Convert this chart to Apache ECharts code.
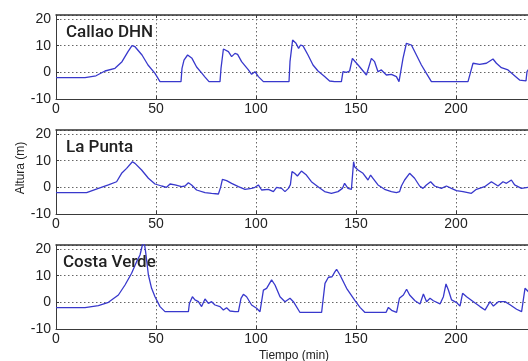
<!DOCTYPE html>
<html>
<head>
<meta charset="utf-8">
<script src="https://cdn.jsdelivr.net/npm/echarts@6/dist/echarts.min.js"></script>
<style>html,body{margin:0;padding:0;background:#fff;}#c{width:528px;height:361px;}</style>
</head>
<body>
<div id="c"></div>
<script>
// Station names
const stations = ['Callao DHN', 'La Punta', 'Costa Verde'];
// X tick labels (minutes) and Y tick labels (m)
const xTicks = [0, 50, 100, 150, 200];
const yTicks = [-10, 0, 10, 20];

// Callao DHN: time (min) and height (m)
const callaoT = [0,14.5,20,24.5,29.5,33,36,38,39.5,43,46,49.5,52,62.5,63,64,65.8,68,70.3,73,74.3,75.3,76.5,82,82.5,83.7,86.2,87.8,89.5,90.8,92.8,96.2,97.8,99.5,101.2,103.7,116.5,117,118.3,120,121.3,122.3,123.5,126,128.5,131,134.3,136.8,139.3,142.7,143.5,145.2,146.8,148.2,149.3,151.8,155.2,157.7,159.3,161,162.7,165.2,167.7,170.2,171.5,173.5,175.2,177.7,180.2,182.7,185.2,187.7,206,207,208.5,211.8,215.2,218.5,220.2,222.7,226,229.3,231.8,235,235.5,237];
const callaoH = [-2,-2,-1.3,0.5,1.5,4,7.75,10,9.6,6.5,2.75,-0.4,-3.5,-3.5,1.5,4.6,6.5,5.25,2,-0.4,-1.6,-1.2,-3.5,-3.5,1.5,8.75,7.75,5.9,7.1,6.75,4,0.9,-0.75,0.25,-1.6,-3.5,-3.5,4,12.1,10.9,9,10.25,9.9,6.5,2.75,0.5,-1.6,-3.25,-3.5,-3.5,0.25,0,0.5,5.25,4.25,2.1,-1,5.25,4,0.25,0.9,-1,-0.75,-1.6,-3.5,5.25,10.9,10.25,6.5,2.75,-0.4,-3.5,-3.5,-2.9,3.4,3,3.4,5,3.4,1.75,0.9,-1.25,-2.9,-3.2,0.25,2];

// La Punta
const puntaT = [0,15.3,21.2,26.2,30.3,32.8,35.3,38.2,39.5,42.8,46.2,49.5,52.8,55.3,57,59.5,62.8,64.5,66.2,67.8,70.3,74.5,77.8,81.2,82.3,83.2,85.3,87.8,91.2,94.5,97.8,99.5,101.2,102.8,106.2,108.7,110.3,112.8,114.5,116.2,117.2,118,119.3,120.7,122.7,125.2,127.7,131,134.3,137.7,141,143.2,144.3,146,147.7,148.8,149.3,151,153.5,156,157.3,158.5,161,164.3,167.7,170.2,171.8,172.7,174.3,176.8,179.3,181.8,183.5,185.2,187.3,189.3,192.7,195.2,197.7,200.2,203.5,207.7,210.2,214.3,217.7,221,223.5,225.2,227.7,229.3,232.7,236];
const puntaH = [-2,-2,-0.4,0.9,2.1,5.25,7.1,9.6,9,6.5,3.4,1.25,0.5,0,1.25,0.9,0.25,0.5,1.75,0.9,-1,-2,-2.25,-2.5,0,3,2.5,1.5,0.25,-0.75,-0.4,0,0.9,-1,-0.75,-1.6,0,-0.4,-1.6,-0.4,1,5.9,5.25,4.25,6.1,4.6,2.1,0.25,-1.6,-2.25,-1.6,-0.4,1.5,-0.4,-0.75,9.6,7.75,6.5,5.25,2.75,4.6,3.4,0.9,-0.75,-1.6,-2,-1.6,0.5,2.75,5.25,3.4,0.5,-0.4,0.9,2.1,0.5,-0.4,0.5,-0.4,-1.25,-1.6,-2.25,-0.75,0.25,2.1,0.5,2.1,1.5,2.75,0.9,-0.4,0];

// Costa Verde
const costaT = [0,14.5,21.2,26.2,31.2,34.5,37.8,40.3,42,43.2,44,44.8,46.2,47.8,49.5,52,54.5,66.2,66.7,68.2,69.5,71.2,72.8,74.5,76.2,77.8,79.5,82,83.7,85.3,87,89.5,91.2,92.5,93.7,95.3,97.8,100.3,102,103.7,105.3,107.8,109.5,112,114.5,117,118.7,122,132.8,134.5,136.2,138,139.5,140.3,142,145.3,149.5,152,154.5,165,166.2,167.8,170.3,171.7,173.7,175.3,176.8,179.5,182,183.7,185.3,187,188.7,192,193.7,195,196.2,197.8,200.3,202,203.3,205.3,208.7,212,214.5,217,218.7,221.2,224.5,227,230.3,232.8,234.5,236.2];
const costaH = [-2,-2,-1.25,0,2.75,6.5,10.9,15.25,17.75,21.5,23,19,10.25,5.25,2.1,-1.6,-3.5,-3.5,-0.4,2.1,0.9,0.25,-1.6,1.25,-0.4,0.25,-1,-1.6,-2.9,-2,-3.25,-3.5,-3.5,1.5,3,2.1,-1,-2.25,-3.5,4.6,5.25,8.4,6.5,2.1,0.25,1.5,0.25,-3.8,-3.8,7.1,9.4,9.6,11.5,12.4,10.25,5.25,0.6,-1.9,-3.8,-3.8,-1.9,-3,-3.8,1.5,2.75,4.9,2.75,0.6,-0.6,3.1,0.25,1.5,0.6,-0.6,2.1,6.9,4.6,0.9,-0.1,-1.4,3.4,2.1,0.25,-1.6,-2.9,0.25,-1.4,0.25,0.25,-0.9,-2.6,-3.5,5.25,4];

const seriesT = [callaoT, puntaT, costaT];
const seriesH = [callaoH, puntaH, costaH];

const LEFT = 56, TOPS = [15, 130, 245], HEIGHT = 84;
const XMAX = 236, YMAX = 21.5;
const FONT = "'Liberation Sans', Arial, sans-serif";
const AX = '#3a3a3a';
const gridLine = { show: true, lineStyle: { color: '#666', type: [1.5, 2.5], width: 1 } };
const fmtX = v => (xTicks.indexOf(v) >= 0 ? String(v) : '');
const fmtY = v => (yTicks.indexOf(v) >= 0 ? String(v) : '');

const grids = [], xAxes = [], yAxes = [], series = [], titles = [];
for (let i = 0; i < 3; i++) {
  grids.push({ left: LEFT, top: TOPS[i], right: 0, height: HEIGHT, show: false, containLabel: false });
  xAxes.push({
    type: 'value', gridIndex: i, min: 0, max: XMAX, interval: 50, position: 'bottom',
    axisLine: { show: true, onZero: false, lineStyle: { color: AX } },
    axisTick: { show: true, inside: true, length: 3, lineStyle: { color: AX } },
    axisLabel: { show: true, margin: 3, color: '#222', fontSize: 14, fontFamily: FONT, showMaxLabel: false, formatter: fmtX },
    splitLine: gridLine
  });
  xAxes.push({
    type: 'value', gridIndex: i, min: 0, max: XMAX, interval: 50, position: 'top',
    axisLine: { show: true, onZero: false, lineStyle: { color: '#333', width: 1.5 } },
    axisTick: { show: true, inside: true, length: 3, lineStyle: { color: AX } },
    axisLabel: { show: false }, splitLine: { show: false }
  });
  yAxes.push({
    type: 'value', gridIndex: i, min: yTicks[0], max: YMAX, interval: 10,
    axisLine: { show: true, onZero: false, lineStyle: { color: AX } },
    axisTick: { show: true, inside: true, length: 3, lineStyle: { color: AX } },
    axisLabel: { show: true, margin: 5, color: '#222', fontSize: 14, fontFamily: FONT, showMaxLabel: false, formatter: fmtY },
    splitLine: gridLine
  });
  series.push({
    type: 'line', xAxisIndex: i * 2, yAxisIndex: i, showSymbol: false, symbol: 'none', clip: true,
    lineStyle: { color: '#3838cc', width: 1.3 },
    data: seriesT[i].map((t, k) => [t, seriesH[i][k]]),
    animation: false
  });
  titles.push({
    text: stations[i], left: i === 2 ? 63 : 66, top: TOPS[i] + 9,
    textStyle: { fontFamily: "Roboto, sans-serif", fontWeight: 500, fontSize: 17, color: '#222' },
    padding: 0
  });
}

const chart = echarts.init(document.getElementById('c'), null, { renderer: 'canvas' });
chart.setOption({
  animation: false,
  backgroundColor: '#fff',
  title: titles,
  grid: grids,
  xAxis: xAxes,
  yAxis: yAxes,
  series: series,
  graphic: [
    { type: 'text', x: 21, y: 168, rotation: Math.PI / 2,
      style: { text: 'Altura (m)', fontFamily: FONT, fontSize: 12, fill: '#222', textAlign: 'center', textVerticalAlign: 'middle' } },
    { type: 'text', x: 294, y: 356,
      style: { text: 'Tiempo (min)', fontFamily: FONT, fontSize: 12, fill: '#222', textAlign: 'center', textVerticalAlign: 'middle' } }
  ]
});
</script>
</body>
</html>
